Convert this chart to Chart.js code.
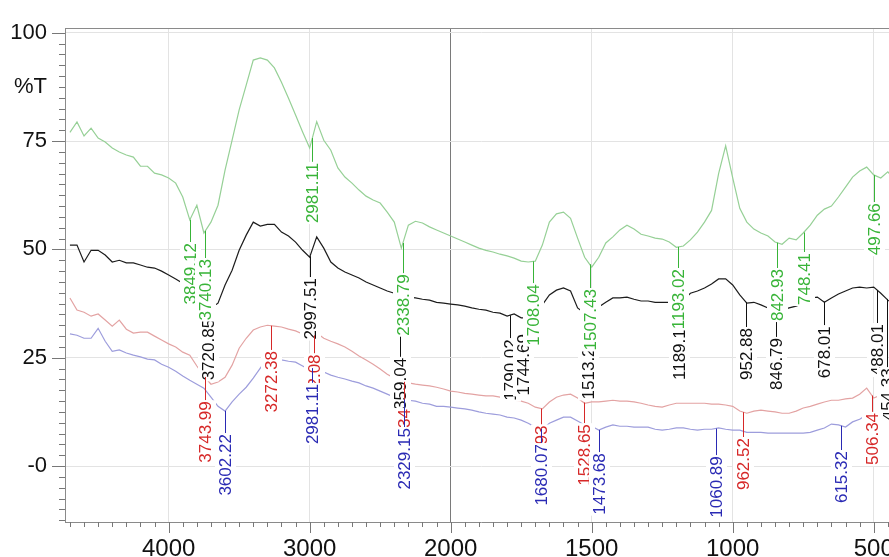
<!DOCTYPE html>
<html><head><meta charset="utf-8">
<script src="https://cdn.jsdelivr.net/npm/chart.js@4/dist/chart.umd.min.js"></script>
<style>
html,body{margin:0;padding:0;overflow:hidden;background:#fff;width:889px;height:557px}
#wrap{position:absolute;left:0;top:0;width:900px;height:557px}
</style>
</head><body><div id="wrap"><canvas id="c" width="900" height="557"></canvas></div>
<script>
// ---- data (wavenumber in cm-1, transmittance in %T) ----
const wavenumbers = [4700,4650,4600,4550,4500,4450,4400,4350,4300,4250,4200,4150,4100,4050,4000,3950,3900,3850,3800,3750,3700,3650,3600,3550,3500,3450,3400,3350,3300,3250,3200,3150,3100,3050,3000,2950,2900,2850,2800,2750,2700,2650,2600,2550,2500,2450,2400,2350,2300,2250,2200,2150,2100,2050,2000,
1975,1950,1925,1900,1875,1850,1825,1800,1775,1750,1725,1700,1675,1650,1625,1600,1575,1550,1525,1500,1475,1450,1425,1400,1375,1350,1325,1300,1275,1250,1225,1200,1175,1150,1125,1100,1075,1050,1025,1000,975,950,925,900,875,850,825,800,775,750,725,700,675,650,625,600,575,550,525,500,475,450,425];

const greenT = [77,79.4,76.2,78,75.7,74.8,73.4,72.5,71.8,71.3,69.2,69.2,67.6,67.2,66.5,65.3,62.1,56.8,60.2,53.8,56.3,60.2,68.3,75.2,82.2,87.9,93.7,94.2,93.7,91.9,88.6,84.9,81.0,77.1,73.4,79.5,75.2,72.9,68.8,66.7,65.3,63.7,62.3,61.4,60.7,58.6,56.3,50.3,55.6,56.5,56.1,55.2,54.5,53.8,53.1,
52.4,51.7,51.0,50.3,49.8,49.4,48.9,48.5,48.0,47.3,47.1,47.3,51.0,56.3,58.2,58.6,57.2,52.6,48.2,45.9,48.2,51.5,52.9,54.5,55.6,54.7,53.5,53.1,52.6,52.4,51.7,50.5,50.8,52.2,54.0,56.3,59.0,67.5,73.9,66.5,59.5,56.3,54.7,53.8,53.1,51.7,51.2,52.6,52.2,53.8,55.6,57.9,59.3,60.0,62.1,64.4,66.7,68.1,69.0,67.2,66.5,67.9,66.0];

const blackT = [51.0,51.0,47.1,49.8,49.8,48.7,47.1,47.5,46.9,46.9,46.4,45.9,45.7,45.0,44.1,43.2,42.2,41.1,40.2,38.5,36.5,37.6,41.8,45.2,49.8,53.3,56.3,55.4,55.8,55.8,54.0,53.1,51.7,49.8,48.2,52.9,50.3,47.1,45.7,44.8,44.1,43.4,42.5,41.8,41.1,40.4,39.9,39.2,39.0,38.8,38.5,38.3,37.8,37.6,37.4,
37.2,36.9,36.5,36.2,36.0,35.5,35.3,34.6,35.1,34.2,34.2,35.5,37.2,39.5,40.6,41.1,40.4,36.5,35.3,34.8,36.7,37.8,38.8,38.8,39.0,38.5,38.1,38.1,37.8,37.8,37.8,37.6,38.3,39.9,40.4,41.1,42.0,43.2,43.2,41.8,39.5,37.6,37.8,37.2,36.5,36.0,36.0,36.5,36.9,37.6,38.8,39.0,37.8,38.8,39.7,40.4,41.1,41.3,41.1,41.3,39.9,38.3,37.2];

const redT = [38.8,36.0,35.5,34.6,35.1,33.7,32.3,33.7,31.6,30.7,30.9,30.9,30.0,29.1,28.2,27.5,26.3,25.6,23.1,20.8,18.9,19.4,20.5,23.3,27.2,29.5,31.4,32.1,32.5,32.3,32.1,31.6,31.2,30.5,29.5,30.7,29.5,28.8,28.2,27.5,26.5,25.4,24.5,23.5,22.4,21.2,20.3,19.6,19.2,18.9,18.7,18.5,18.2,17.8,17.3,
17.1,16.8,16.6,16.4,16.2,16.2,15.9,15.7,15.2,15.0,14.5,13.6,13.2,14.8,15.9,16.4,16.6,15.7,14.5,14.8,14.8,15.0,15.2,15.0,15.0,14.8,14.5,14.1,13.8,13.6,14.1,14.5,14.5,14.5,14.5,14.5,14.3,14.3,14.1,13.8,12.7,12.2,12.7,12.9,12.7,12.5,12.2,12.2,12.7,13.4,13.8,14.3,14.8,15.2,15.2,15.5,15.7,16.6,18.0,15.7,16.4,16.8,17.1];

const blueT = [30.5,30.2,29.5,29.5,31.8,28.8,26.5,26.8,26.1,25.6,25.2,24.7,24.5,23.5,22.8,21.9,20.8,19.8,18.9,18.0,15.9,13.8,12.7,14.8,16.6,18.2,20.3,22.6,24.9,24.9,24.5,24.2,24.0,23.1,22.2,23.3,21.7,21.0,20.5,20.1,19.6,19.2,18.5,18.0,17.3,16.6,15.9,15.5,15.2,15.0,14.5,14.3,13.8,13.8,13.6,
13.4,13.2,12.9,12.5,12.2,12.0,11.8,11.3,11.1,10.6,9.9,9.0,8.5,9.9,10.6,11.3,11.3,10.4,9.5,9.2,8.3,9.0,9.5,9.2,9.2,9.0,9.0,9.0,8.5,8.3,8.5,8.8,8.8,8.5,8.3,8.5,8.5,8.8,8.5,8.3,8.3,7.8,7.8,7.8,7.6,7.6,7.6,7.6,7.6,7.6,7.8,8.3,8.8,9.7,9.5,9.0,10.2,10.8,11.8,11.3,12.0,12.7,12.9];

// peak annotations (text) and the %T level of the top end of each label
const greenPeaks = ['3849.12','3740.13','2981.11','2338.79','1708.04','1507.43','1193.02','842.93','748.41','497.66'];
const greenLabelTop = [51.7,48.0,70.2,44.5,42.2,41.1,45.7,45.7,49.4,60.9];
const blackPeaks = ['3720.85','2997.51','2359.04','1790.02','1744.69','1513.21','1189.11','952.88','846.79','678.01','488.01','454.33'];
const blackLabelTop = [34.2,43.6,25.2,29.5,30.7,29.8,33.7,32.1,29.8,32.5,33.0,22.8];
const redPeaks = ['3743.99','3272.38','2972.08','2331.34','1679.93','1528.65','962.52','506.34'];
const redLabelTop = [15.2,26.8,26.0,13.4,9.6,9.9,6.7,12.5];
const bluePeaks = ['3602.22','2981.11','2329.15','1680.07','1473.68','1060.89','615.32'];
const blueLabelTop = [7.6,19.2,9.0,5.3,3.2,2.5,3.7];

const xTickLabels = [4000,3000,2000,1500,1000,500];
const yTickValues = [0,25,50,75,100];
const yUnitLabel = '%T';
const yUnitAt = 87.5;

// axis break at 2000 cm-1: below 2000 the scale is expanded x2
const BREAK = 2000;
function toAxis(w){ return w >= BREAK ? w : 2*w - BREAK; }
function fromAxis(u){ return u >= BREAK ? u : (u + BREAK)/2; }

const FONT = '"Liberation Sans", Arial, Helvetica, sans-serif';
const COLORS = {
  green:{line:'#96d096', text:'#38b438'},
  black:{line:'#1c1c1c', text:'#111111'},
  red:{line:'#e3a3a3', text:'#d62828'},
  blue:{line:'#9d9ddc', text:'#2a2ab4'}
};

function mk(series){ return wavenumbers.map((w,i)=>({x:toAxis(w), y:series[i]})); }

function interp(series, u){
  const us = wavenumbers.map(toAxis);
  for (let i=0;i<us.length-1;i++){
    if (u <= us[i] && u >= us[i+1]){
      const t = (us[i]-u)/(us[i]-us[i+1]);
      return series[i] + t*(series[i+1]-series[i]);
    }
  }
  return series[series.length-1];
}

function drawLabels(chart, peaks, tops, series, color){
  const ctx = chart.ctx, xs = chart.scales.x, ys = chart.scales.y;
  ctx.save();
  ctx.font = '17px ' + FONT;
  peaks.forEach((txt,i)=>{
    const u = toAxis(parseFloat(txt));
    const px = Math.round(xs.getPixelForValue(u));
    const py0 = ys.getPixelForValue(interp(series,u));
    const pyTop = ys.getPixelForValue(tops[i]);
    const tw = ctx.measureText(txt).width;
    ctx.strokeStyle = color; ctx.lineWidth = 1;
    ctx.beginPath(); ctx.moveTo(px+0.5, py0); ctx.lineTo(px+0.5, pyTop); ctx.stroke();
    ctx.fillStyle = '#fff';
    ctx.fillRect(px-10, pyTop, 21, tw+2);
    ctx.save();
    ctx.translate(px+0.5, pyTop);
    ctx.rotate(-Math.PI/2);
    ctx.textAlign = 'right'; ctx.textBaseline = 'middle';
    ctx.fillStyle = color;
    ctx.fillText(txt, -1, 1);
    ctx.restore();
  });
  ctx.restore();
}

const ftirPlugin = {
  id:'ftir',
  afterDatasetsDraw(chart){
    drawLabels(chart, blackPeaks, blackLabelTop, blackT, COLORS.black.text);
    drawLabels(chart, redPeaks, redLabelTop, redT, COLORS.red.text);
    drawLabels(chart, bluePeaks, blueLabelTop, blueT, COLORS.blue.text);
    drawLabels(chart, greenPeaks, greenLabelTop, greenT, COLORS.green.text);
  },
  afterDraw(chart){
    const ctx = chart.ctx, a = chart.chartArea, xs = chart.scales.x, ys = chart.scales.y;
    ctx.save();
    ctx.strokeStyle = '#8a8a8a'; ctx.lineWidth = 1;
    ctx.beginPath();
    ctx.moveTo(a.left, a.top+0.5); ctx.lineTo(a.right, a.top+0.5);
    ctx.moveTo(a.right-0.5, a.top); ctx.lineTo(a.right-0.5, a.bottom);
    ctx.stroke();
    // x tick marks (every 100 axis units, long ones at labelled ticks)
    ctx.strokeStyle = '#777';
    ctx.beginPath();
    for (let u = Math.ceil(xs.min/100)*100; u <= xs.max; u += 100){
      const px = Math.round(xs.getPixelForValue(u)) + 0.5;
      const len = (u % 1000 === 0) ? 11 : 5;
      ctx.moveTo(px, a.bottom); ctx.lineTo(px, a.bottom + len);
    }
    // y tick marks every 2.5 %T
    for (let v = -12.5; v <= 100.01; v += 2.5){
      const py = Math.round(ys.getPixelForValue(v)) + 0.5;
      const major = Math.abs(v % 25) < 0.01;
      ctx.moveTo(a.left, py); ctx.lineTo(a.left - (major ? 13 : 6), py);
    }
    ctx.stroke();
    ctx.restore();
  }
};

new Chart(document.getElementById('c'), {
  type:'line',
  data:{ datasets:[
    {data:mk(greenT), borderColor:COLORS.green.line, borderWidth:1.2},
    {data:mk(redT), borderColor:COLORS.red.line, borderWidth:1.2},
    {data:mk(blueT), borderColor:COLORS.blue.line, borderWidth:1.2},
    {data:mk(blackT), borderColor:COLORS.black.line, borderWidth:1.2}
  ].map(d=>Object.assign(d,{pointRadius:0, tension:0, fill:false}))},
  options:{
    responsive:false, animation:false, events:[],
    layout:{padding:{left:0, top:28, right:3, bottom:0}},
    plugins:{legend:{display:false}, tooltip:{enabled:false}},
    scales:{
      x:{
        type:'linear', reverse:true, min:-1165, max:4735,
        afterBuildTicks:s=>{ s.ticks = xTickLabels.map(w=>({value:toAxis(w)})); },
        afterFit:s=>{ s.height = 35; s.paddingLeft = 0; s.paddingRight = 0; },
        ticks:{autoSkip:false, maxRotation:0, padding:13, color:'#111',
               font:{family:FONT, size:24}, callback:v=>String(fromAxis(v))},
        grid:{drawTicks:false, lineWidth:1,
              color:c=> (c.tick && c.tick.value===BREAK) ? '#7a7a7a' : '#e3e3e3'},
        border:{display:true, color:'#8a8a8a'}
      },
      y:{
        type:'linear', min:-12.9, max:101.1,
        afterBuildTicks:s=>{ s.ticks = yTickValues.concat([yUnitAt]).sort((p,q)=>p-q).map(v=>({value:v})); },
        afterFit:s=>{ s.width = 65; s.paddingTop = 0; s.paddingBottom = 0; },
        ticks:{padding:18, color:'#111', font:{family:FONT, size:22},
               callback:v=> v===yUnitAt ? yUnitLabel : (v===0 ? '-0' : String(v))},
        grid:{drawTicks:false, lineWidth:1,
              color:c=> (c.tick && c.tick.value===yUnitAt) ? 'rgba(0,0,0,0)' : '#e3e3e3'},
        border:{display:true, color:'#8a8a8a'}
      }
    }
  },
  plugins:[ftirPlugin]
});
</script>
</body></html>
